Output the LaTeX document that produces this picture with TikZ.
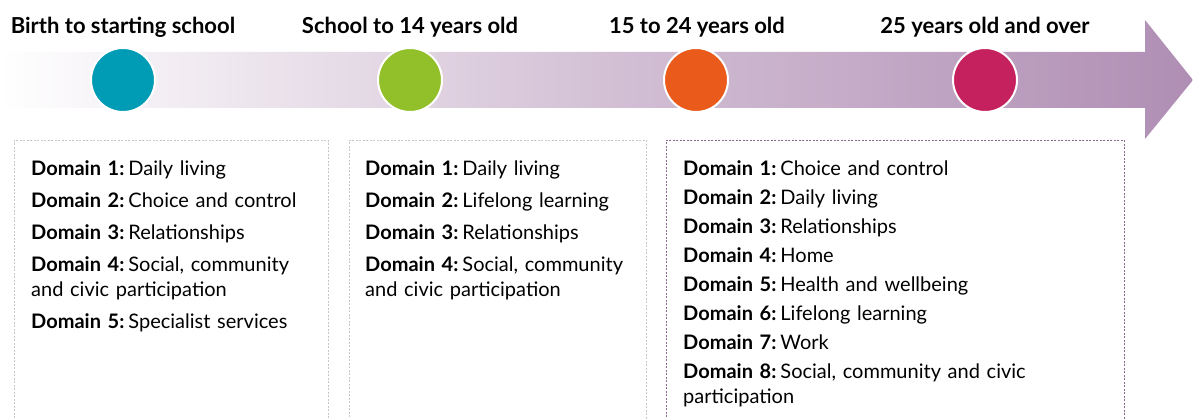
\documentclass[tikz,border=0pt]{standalone}
\usepackage{fontspec}
\setmainfont{Lato}
\usetikzlibrary{positioning}
\definecolor{teal}{RGB}{0,155,181}
\definecolor{lime}{RGB}{146,192,42}
\definecolor{orng}{RGB}{234,90,26}
\definecolor{berry}{RGB}{196,33,94}
\definecolor{arrowend}{RGB}{176,142,180}
\definecolor{boxline}{RGB}{200,200,200}
\definecolor{boxlilac}{RGB}{140,105,145}
\tikzset{
  stage/.style={circle,fill=#1,draw=white,line width=2pt,minimum size=64pt,inner sep=0pt},
  heading/.style={font=\fontsize{22}{24}\selectfont\bfseries},
  domainbox/.style={draw=#1,dash pattern=on 2pt off 1.5pt,line width=0.8pt,anchor=north west,minimum height=300pt,inner sep=0pt},
  domains/.style={anchor=north west,inner sep=0pt,align=left,text width=#1,font=\fontsize{20}{25}\selectfont}
}
\newcommand{\dom}[1]{\textbf{Domain #1:}\hspace{4pt}}
\begin{document}
\begin{tikzpicture}[x=1pt,y=-1pt]
\useasboundingbox (0,0) rectangle (1193,419);
% timeline arrow
\shade[left color=white,right color=arrowend,middle color=arrowend!55]
  (0,52) -- (1145,52) -- (1145,20) -- (1193,80) -- (1145,139) -- (1145,108) -- (0,108) -- cycle;
% stages
\node[stage=teal]  (s1) at (123,80) {};
\node[stage=lime]  (s2) at (410,80) {};
\node[stage=orng]  (s3) at (696,80) {};
\node[stage=berry] (s4) at (985,80) {};
\node[heading] (h1) at (123,27) {Birth to starting school};
\node[heading] (h2) at (410,27) {School to 14 years old};
\node[heading] (h3) at (697,27) {15 to 24 years old};
\node[heading] (h4) at (985,27) {25 years old and over};
% domain boxes
\node[domainbox=boxline,minimum width=314pt] (b1) at (14,140) {};
\node[domainbox=boxline,minimum width=297pt] (b2) at (349,140) {};
\node[domainbox=boxlilac,minimum width=458pt] (b3) at (666,140) {};
\node[domains=290pt] (t1) at (31,160) {\dom{1}Daily living\\[7pt]
  \dom{2}Choice and control\\[7pt]
  \dom{3}Relationships\\[7pt]
  \dom{4}Social, community\\and civic participation\\[7pt]
  \dom{5}Specialist services};
\node[domains=280pt] (t2) at (365,160) {\dom{1}Daily living\\[7pt]
  \dom{2}Lifelong learning\\[7pt]
  \dom{3}Relationships\\[7pt]
  \dom{4}Social, community\\and civic participation};
\node[domains=430pt] (t3) at (683,160) {\dom{1}Choice and control\\[4pt]
  \dom{2}Daily living\\[4pt]
  \dom{3}Relationships\\[4pt]
  \dom{4}Home\\[4pt]
  \dom{5}Health and wellbeing\\[4pt]
  \dom{6}Lifelong learning\\[4pt]
  \dom{7}Work\\[4pt]
  \dom{8}Social, community and civic\\participation};
\end{tikzpicture}
\end{document}
